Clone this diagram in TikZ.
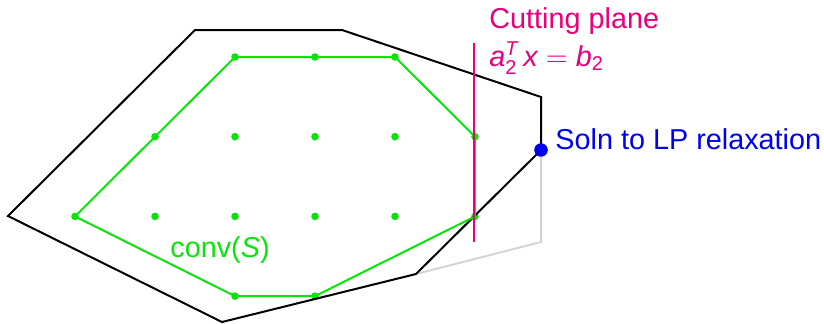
\documentclass[tikz,border=0pt]{standalone}
\usepackage{amsmath}
\usepackage{fontspec}
\setmainfont{Liberation Sans}
\usepackage{tikz}
\usetikzlibrary{positioning}
\definecolor{cutpink}{RGB}{230,0,126}
\definecolor{hullgreen}{RGB}{10,228,10}
\definecolor{lpblue}{RGB}{0,0,240}
\definecolor{relaxgray}{RGB}{212,212,212}

\begin{document}
\begin{tikzpicture}[
    x=0.5pt, y=-0.5pt,
    font=\fontsize{14.4}{19}\selectfont,
    edge/.style={black, line width=1pt, line join=miter},
    hull/.style={hullgreen, line width=1pt},
    lattice/.style={circle, fill=hullgreen, inner sep=0pt, minimum size=3.8pt},
    soln/.style={circle, fill=lpblue, inner sep=0pt, minimum size=6.6pt},
    cut/.style={cutpink, line width=1pt},
    lbl/.style={inner sep=0pt, anchor=base west}
]
\useasboundingbox (0,0) rectangle (824,323);

% LP relaxation polytope
\coordinate (v1) at (8,216);
\coordinate (v2) at (195,30);
\coordinate (v3) at (342,30);
\coordinate (v4) at (541,97);
\coordinate (v5) at (416,274);
\coordinate (v6) at (222,322);
\coordinate (oldcorner) at (541,242);
\node[soln] (lp) at (541,150) {};

% Integer points
\foreach \i/\j in {3/1,4/1,5/1, 2/2,3/2,4/2,5/2,6/2, 1/3,2/3,3/3,4/3,5/3,6/3, 3/4,4/4}
    \node[lattice] (p\i\j) at ({-5+80*\i},{57+79.7*(\j-1)}) {};

% Part cut off
\draw[relaxgray, line width=1pt] (lp.center) -- (oldcorner) -- (v5);

% Polytope after cut
\draw[edge] (v1) -- (v2) -- (v3) -- (v4) -- (lp.center) -- (v5) -- (v6) -- cycle;

% Convex hull
\draw[hull] (p13.center) -- (p31.center) -- (p51.center) -- (p62.center)
    -- (p63.center) -- (p44.center) -- (p34.center) -- cycle;
\node[lbl, hullgreen] (hulllabel) at (170,257) {conv(\textit{S})};

% Cutting plane
\coordinate (cuttop) at (474,43);
\coordinate (cutbot) at (474,242);
\draw[cut] (cuttop) -- (cutbot);
\node[lbl, cutpink, align=left] (cuttext) at (489,66)
    {Cutting plane\\$\textit{a}_{\text{2}}^{\textit{T}}\,\textit{x} = \textit{b}_{\text{2}}$};

% LP solution
\node[soln] at (lp) {};
\node[lbl, lpblue] (lplabel) at (555,149) {Soln to LP relaxation};

\end{tikzpicture}
\end{document}
